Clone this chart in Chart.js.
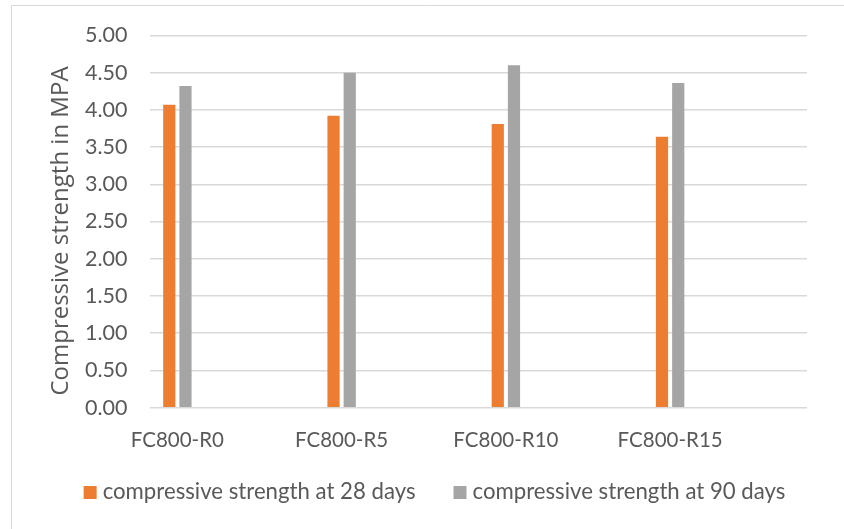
<!DOCTYPE html>
<html>
<head>
<meta charset="utf-8">
<script src="https://cdn.jsdelivr.net/npm/chart.js@4.4.1/dist/chart.umd.min.js"></script>
<style>
  html, body { margin: 0; padding: 0; background: #ffffff; }
  #wrap { width: 844px; height: 529px; }
</style>
</head>
<body>
<div id="wrap"><canvas id="c" width="844" height="529"></canvas></div>
<script>
// Mix designs and their compressive strengths (MPa)
const categories = ['FC800-R0', 'FC800-R5', 'FC800-R10', 'FC800-R15'];
const strength28 = [4.07, 3.92, 3.81, 3.64];
const strength90 = [4.32, 4.50, 4.60, 4.36];
const seriesNames = ['compressive strength at 28 days', 'compressive strength at 90 days'];
const yTitle = 'Compressive strength in MPA';
const yMin = 0, yMax = 5, yStep = 0.5;

const TEXT = '#595959';
const GRID = '#d9d9d9';
const FONT = 'Lato, "Liberation Sans", sans-serif';
const TITLE_FONT = '"Open Sans", sans-serif';

// Each mix occupies one labelled slot followed by two empty slots on the axis
const labels = [], d28 = [], d90 = [];
categories.forEach((name, i) => {
  labels.push(name, '', '');
  d28.push(strength28[i], null, null);
  d90.push(strength90[i], null, null);
});

// Light frame along the top and left edges
const framePlugin = {
  id: 'frame',
  beforeDraw(chart) {
    const ctx = chart.ctx;
    ctx.save();
    ctx.fillStyle = '#ffffff';
    ctx.fillRect(0, 0, chart.width, chart.height);
    ctx.strokeStyle = GRID;
    ctx.lineWidth = 1;
    ctx.beginPath();
    ctx.moveTo(11.5, chart.height);
    ctx.lineTo(11.5, 5.5);
    ctx.lineTo(chart.width, 5.5);
    ctx.stroke();
    ctx.restore();
  }
};

// Vertical axis title, rotated to read bottom-to-top
const yTitlePlugin = {
  id: 'yTitle',
  afterDraw(chart) {
    const ctx = chart.ctx;
    ctx.save();
    ctx.translate(61, 231);
    ctx.rotate(-Math.PI / 2);
    ctx.font = '24px ' + TITLE_FONT;
    ctx.fillStyle = TEXT;
    ctx.textAlign = 'center';
    ctx.textBaseline = 'middle';
    ctx.fillText(yTitle, 0, 0);
    ctx.restore();
  }
};

// Legend row under the axis labels
const legendPlugin = {
  id: 'bottomLegend',
  afterDraw(chart) {
    const ctx = chart.ctx;
    ctx.save();
    ctx.font = '22.2px ' + FONT;
    const box = 13, gap = 6, itemGap = 38, centerX = 434.5, baseline = 499;
    const items = chart.data.datasets.map(ds => ({
      text: ds.label, color: ds.backgroundColor, w: ctx.measureText(ds.label).width
    }));
    const total = items.reduce((a, it) => a + box + gap + it.w, 0) + itemGap * (items.length - 1);
    let x = centerX - total / 2;
    ctx.textBaseline = 'alphabetic';
    ctx.textAlign = 'left';
    items.forEach(it => {
      ctx.fillStyle = it.color;
      ctx.fillRect(x, baseline - box, box, box);
      ctx.fillStyle = TEXT;
      ctx.fillText(it.text, x + box + gap, baseline);
      x += box + gap + it.w + itemGap;
    });
    ctx.restore();
  }
};

new Chart(document.getElementById('c'), {
  type: 'bar',
  data: {
    labels: labels,
    datasets: [
      { label: seriesNames[0], data: d28, backgroundColor: '#ED7D31', categoryPercentage: 0.592, barPercentage: 0.753 },
      { label: seriesNames[1], data: d90, backgroundColor: '#A5A5A5', categoryPercentage: 0.592, barPercentage: 0.753 }
    ]
  },
  options: {
    responsive: false,
    animation: false,
    layout: { padding: { left: 0, right: 37, top: 34, bottom: 0 } },
    plugins: { legend: { display: false }, tooltip: { enabled: false } },
    scales: {
      x: {
        grid: { display: false, drawTicks: false },
        border: { display: false },
        ticks: {
          autoSkip: false, maxRotation: 0, minRotation: 0, padding: 20,
          color: TEXT, font: { family: FONT, size: 20.5 }
        },
        afterFit(s) { s.height = 121.3; }
      },
      y: {
        min: yMin, max: yMax,
        grid: { color: GRID, lineWidth: 1.5, drawTicks: false },
        border: { display: false },
        ticks: {
          stepSize: yStep, padding: 22.5, color: TEXT,
          font: { family: FONT, size: 21.5 },
          callback: v => v.toFixed(2)
        },
        afterFit(s) { s.width = 150; }
      }
    }
  },
  plugins: [framePlugin, yTitlePlugin, legendPlugin]
});
</script>
</body>
</html>
